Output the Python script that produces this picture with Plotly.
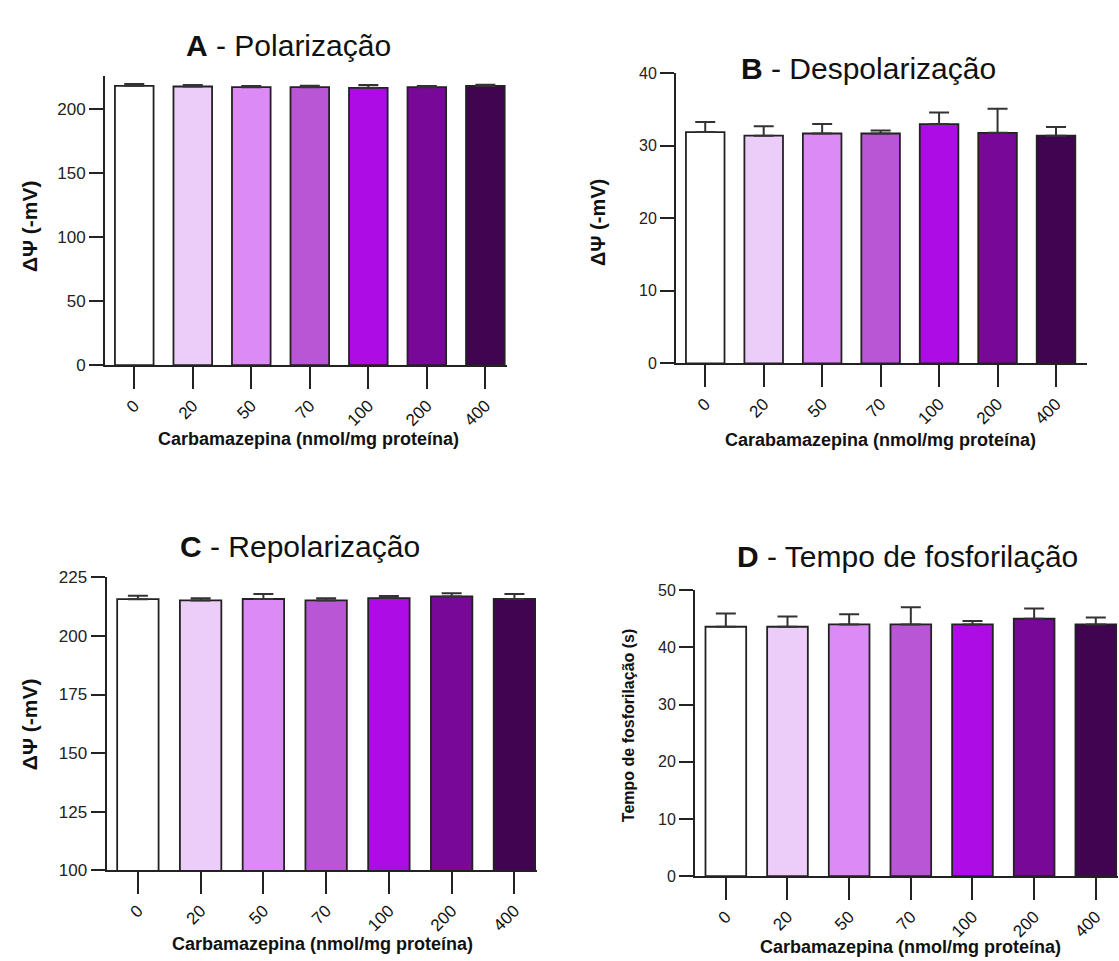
import plotly.graph_objects as go

W, H = 1119, 961

doses = ["0", "20", "50", "70", "100", "200", "400"]
colors = ["#FFFFFF", "#ECCCF8", "#DC8AF6", "#B856D6", "#AE0CE4", "#780898", "#400450"]

# A - Polarização
pol_mean = [218.3, 217.8, 217.3, 217.3, 216.8, 217.3, 218.2]
pol_err = [1.4, 1.2, 0.8, 1.1, 2.2, 0.8, 1.0]
# B - Despolarização
desp_mean = [31.9, 31.4, 31.7, 31.7, 33.0, 31.8, 31.4]
desp_err = [1.4, 1.3, 1.3, 0.4, 1.6, 3.3, 1.2]
# C - Repolarização
repol_mean = [215.7, 215.2, 215.8, 215.2, 216.2, 216.9, 215.8]
repol_err = [1.5, 0.9, 2.1, 0.9, 0.9, 1.3, 2.1]
# D - Tempo de fosforilação
fosf_mean = [43.6, 43.6, 44.0, 44.0, 44.0, 45.0, 44.0]
fosf_err = [2.3, 1.8, 1.8, 3.0, 0.6, 1.8, 1.2]


def Y(y):
    # compensate the vertical placement observed in the rendered page
    return (y - 9) / 0.98


panels = [
    dict(mean=pol_mean, err=pol_err, xd=(105, 507), yd=(365, 76), xr=[-0.5, 6.37], yr=[0, 226], dt=50, t0=0,
         tfs=17, title="<b>A</b> - Polarização", tpos=(288, 45),
         ytitle="ΔΨ (-mV)", yts=21, ypos=(29, 226), xtitle="Carbamazepina (nmol/mg proteína)", xpos=(308, 439)),
    dict(mean=desp_mean, err=desp_err, xd=(676, 1087), yd=(363.3, 73.3), xr=[-0.5, 6.53], yr=[0, 40], dt=10, t0=0,
         tfs=16, title="<b>B</b> - Despolarização", tpos=(868, 68),
         ytitle="ΔΨ (-mV)", yts=20, ypos=(598, 222), xtitle="Carabamazepina (nmol/mg proteína)", xpos=(880, 440)),
    dict(mean=repol_mean, err=repol_err, xd=(106.5, 537), yd=(870, 577.3), xr=[-0.5, 6.36], yr=[100, 225], dt=25, t0=100,
         tfs=17, title="<b>C</b> - Repolarização", tpos=(300, 546),
         ytitle="ΔΨ (-mV)", yts=21, ypos=(29, 724), xtitle="Carbamazepina (nmol/mg proteína)", xpos=(322, 944)),
    dict(mean=fosf_mean, err=fosf_err, xd=(695, 1118), yd=(876, 590), xr=[-0.5, 6.36], yr=[0, 50], dt=10, t0=0,
         tfs=16, title="<b>D</b> - Tempo de fosforilação", tpos=(908, 556),
         ytitle="Tempo de fosforilação (s)", yts=16, ypos=(628, 725), xtitle="Carbamazepina (nmol/mg proteína)", xpos=(910, 947)),
]

FONT = "Liberation Sans, Arial, sans-serif"
fig = go.Figure()
annotations = []
layout = {}
for i, p in enumerate(panels):
    n = "" if i == 0 else str(i + 1)
    fig.add_trace(go.Bar(
        x=doses, y=p["mean"], xaxis="x" + n, yaxis="y" + n, width=0.66,
        marker=dict(color=colors, line=dict(color="#222222", width=1.8)),
        error_y=dict(type="data", array=p["err"], arrayminus=[0] * 7, symmetric=False,
                     width=10, thickness=2, color="#333333"),
        showlegend=False,
    ))
    layout["xaxis" + n] = dict(
        domain=[p["xd"][0] / W, p["xd"][1] / W], anchor="y" + n, type="category",
        range=p["xr"], showline=True, linecolor="#222222", linewidth=2,
        ticks="outside", ticklen=22, tickwidth=1.8, tickcolor="#222222",
        tickangle=-45, tickfont=dict(family=FONT, size=17, color="#111111"),
        showgrid=False, zeroline=False,
    )
    layout["yaxis" + n] = dict(
        domain=[1 - Y(p["yd"][0]) / H, 1 - Y(p["yd"][1]) / H], anchor="x" + n,
        range=p["yr"], tick0=p["t0"], dtick=p["dt"], showline=True, linecolor="#222222", linewidth=2,
        ticks="outside", ticklen=14, tickwidth=1.8, tickcolor="#222222",
        tickfont=dict(family=FONT, size=p["tfs"], color="#222222"),
        showgrid=False, zeroline=False,
    )
    annotations.append(dict(text=p["title"], x=p["tpos"][0] / W, y=1 - Y(p["tpos"][1]) / H, xref="paper", yref="paper",
                            xanchor="center", yanchor="middle", showarrow=False,
                            font=dict(family=FONT, size=30, color="#111111")))
    annotations.append(dict(text="<b>" + p["ytitle"] + "</b>", x=p["ypos"][0] / W, y=1 - Y(p["ypos"][1]) / H,
                            xref="paper", yref="paper", xanchor="center", yanchor="middle", textangle=-90,
                            showarrow=False, font=dict(family=FONT, size=p["yts"], color="#111111")))
    annotations.append(dict(text="<b>" + p["xtitle"] + "</b>", x=p["xpos"][0] / W, y=1 - Y(p["xpos"][1]) / H,
                            xref="paper", yref="paper", xanchor="center", yanchor="middle",
                            showarrow=False, font=dict(family=FONT, size=18, color="#111111")))

fig.update_layout(width=W, height=H, margin=dict(l=0, r=0, t=0, b=0),
                  plot_bgcolor="white", paper_bgcolor="white",
                  annotations=annotations, **layout)
fig.write_html("out.html", config={"displayModeBar": False},
               post_script="document.body.style.margin='0';document.body.style.overflow='hidden';")
